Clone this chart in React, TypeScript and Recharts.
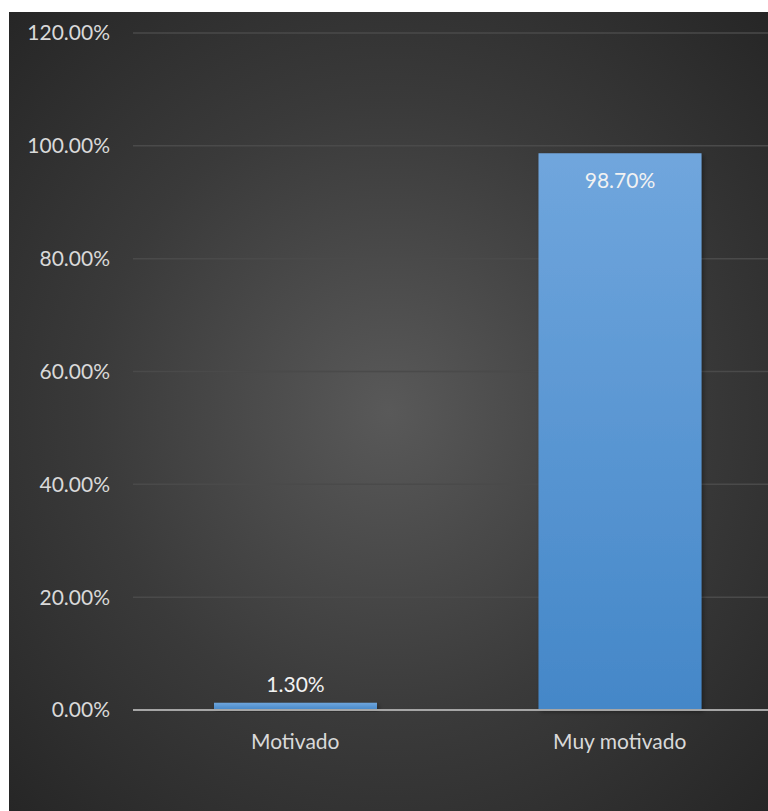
import React from "react";
import { BarChart, Bar, XAxis, YAxis, CartesianGrid, LabelList } from "recharts";

const categories = ["Motivado", "Muy motivado"];
const percentages = [1.3, 98.7];
const yTicks = [0, 20, 40, 60, 80, 100, 120];

const data = categories.map((name, i) => ({ name, value: percentages[i] }));

const FONT = "Lato, 'Noto Sans', sans-serif";
const fmt = (v: number) => `${v.toFixed(2)}%`;

// Excel puts the label inside the end of a tall bar, above a tiny one
function ValueLabel(props: any) {
  const { x, y, width, height, value } = props;
  const cx = x + width / 2;
  const inside = height > 40;
  return (
    <text
      x={cx}
      y={inside ? y + 35 : y - 11}
      textAnchor="middle"
      fill="#f2f2f2"
      fontSize={21}
      fontFamily={FONT}
    >
      {fmt(value)}
    </text>
  );
}

export default function App() {
  return (
    <div
      style={{
        position: "absolute",
        left: 9,
        top: 12,
        width: 759,
        height: 799,
        overflow: "hidden",
        background: "radial-gradient(ellipse farthest-corner at 50% 50%, #595959 0%, #3a3a3a 55%, #262626 100%)",
      }}
    >
      <BarChart
        width={773}
        height={799}
        data={data}
        margin={{ top: 21, right: 0, bottom: 41, left: 0 }}
        barSize={163}
      >
        <defs>
          <linearGradient id="barFill" x1="0" y1="0" x2="0" y2="1">
            <stop offset="0%" stopColor="#70a6dd" />
            <stop offset="100%" stopColor="#4487c8" />
          </linearGradient>
          <filter id="barShadow" x="-10%" y="-10%" width="130%" height="130%">
            <feDropShadow dx="2" dy="2" stdDeviation="2" floodColor="#000" floodOpacity="0.35" />
          </filter>
        </defs>
        <CartesianGrid vertical={false} stroke="#4a4a4a" strokeWidth={1.5} />
        <XAxis
          dataKey="name"
          height={60}
          axisLine={{ stroke: "#a6a6a6", strokeWidth: 2 }}
          tickLine={false}
          tickSize={0}
          tickMargin={24}
          tick={{ fill: "#d9d9d9", fontSize: 21, fontFamily: FONT }}
        />
        <YAxis
          width={124}
          domain={[0, 120]}
          ticks={yTicks}
          tickFormatter={fmt}
          axisLine={false}
          tickLine={false}
          tickSize={0}
          tickMargin={23}
          tick={{ fill: "#d9d9d9", fontSize: 21, fontFamily: FONT }}
        />
        <Bar dataKey="value" fill="url(#barFill)" filter="url(#barShadow)" isAnimationActive={false}>
          <LabelList dataKey="value" content={ValueLabel} />
        </Bar>
      </BarChart>
    </div>
  );
}
